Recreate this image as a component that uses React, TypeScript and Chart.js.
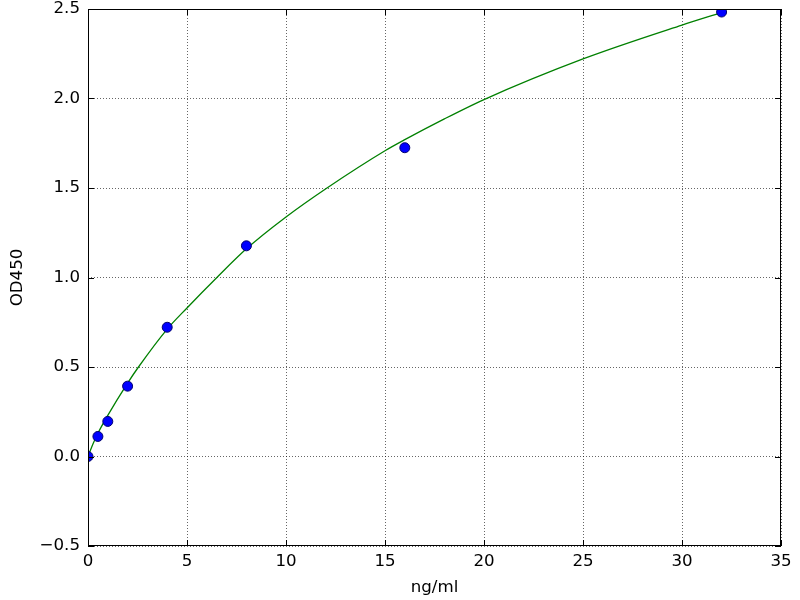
import React, { useEffect, useRef } from "react";
import { Chart, registerables } from "chart.js";

Chart.register(...registerables);

// Measured standards
const concentration = [0, 0.5, 1, 2, 4, 8, 16, 32];
const od450 = [0.0, 0.112, 0.196, 0.393, 0.722, 1.177, 1.725, 2.483];

// Fitted curve
const curveX = [0, 0.25, 0.5, 1, 2, 2.55, 4, 5, 6.51, 8, 10, 12.07, 15, 16, 18, 20, 25, 30, 32];
const curveY = [0, 0.07, 0.13, 0.23, 0.41, 0.5, 0.712, 0.83, 1.0, 1.16, 1.338, 1.5, 1.708, 1.77, 1.886, 1.994, 2.221, 2.41, 2.48];

const xTitle = "ng/ml";
const yTitle = "OD450";

const FONT = { family: "'DejaVu Sans', sans-serif", size: 16.67 };

const framePlugin = {
  id: "frame",
  afterDraw(chart: any) {
    const { ctx, chartArea, scales } = chart;
    const { left, top, right, bottom } = chartArea;
    ctx.save();
    ctx.strokeStyle = "#000";
    ctx.lineWidth = 1;
    ctx.strokeRect(left + 0.5, top + 0.5, right - left - 1, bottom - top - 1);
    const tl = 6;
    ctx.beginPath();
    for (const t of scales.x.ticks) {
      const px = Math.round(scales.x.getPixelForValue(t.value)) + 0.5;
      ctx.moveTo(px, bottom);
      ctx.lineTo(px, bottom - tl);
      ctx.moveTo(px, top);
      ctx.lineTo(px, top + tl);
    }
    for (const t of scales.y.ticks) {
      const py = Math.round(scales.y.getPixelForValue(t.value)) + 0.5;
      ctx.moveTo(left, py);
      ctx.lineTo(left + tl, py);
      ctx.moveTo(right, py);
      ctx.lineTo(right - tl, py);
    }
    ctx.stroke();
    ctx.restore();
  },
};

export default function App() {
  const ref = useRef<HTMLCanvasElement>(null);
  useEffect(() => {
    const chart = new Chart(ref.current as HTMLCanvasElement, {
      type: "scatter",
      data: {
        datasets: [
          {
            type: "scatter",
            data: concentration.map((x, i) => ({ x, y: od450[i] })),
            backgroundColor: "#0000ff",
            borderColor: "#00006e",
            borderWidth: 1,
            pointRadius: 5,
            clip: 0,
            order: 0,
          } as any,
          {
            type: "line",
            data: curveX.map((x, i) => ({ x, y: curveY[i] })),
            borderColor: "#008000",
            borderWidth: 1.3,
            pointRadius: 0,
            fill: false,
            cubicInterpolationMode: "monotone",
            clip: 0,
            order: 1,
          } as any,
        ],
      },
      options: {
        animation: false,
        responsive: false,
        layout: { padding: { top: 9, right: 19, bottom: 0, left: 0 } },
        plugins: { legend: { display: false }, tooltip: { enabled: false } },
        scales: {
          x: {
            type: "linear",
            min: 0,
            max: 35,
            afterFit(scale: any) {
              scale.height = 54;
              scale.paddingLeft = 0;
              scale.paddingRight = 0;
            },
            ticks: {
              stepSize: 5,
              color: "#000",
              font: FONT,
              padding: 6,
              maxRotation: 0,
              callback: (v: any) => String(v),
            },
            grid: { color: "rgba(0,0,0,0.6)", lineWidth: 1, drawTicks: false },
            border: { display: false, dash: [1, 2] },
            title: {
              display: true,
              text: xTitle,
              color: "#000",
              font: FONT,
              padding: { top: 0, bottom: 2 },
            },
          },
          y: {
            type: "linear",
            min: -0.5,
            max: 2.5,
            afterFit(scale: any) {
              scale.width = 88;
              scale.paddingTop = 0;
              scale.paddingBottom = 0;
            },
            ticks: {
              stepSize: 0.5,
              color: "#000",
              font: FONT,
              padding: 8,
              callback: (v: any) => (v < 0 ? "\u2212" : "") + Math.abs(Number(v)).toFixed(1),
            },
            grid: { color: "rgba(0,0,0,0.6)", lineWidth: 1, drawTicks: false },
            border: { display: false, dash: [1, 2] },
            title: {
              display: true,
              text: yTitle,
              color: "#000",
              font: FONT,
              padding: { top: 7.5, bottom: 0 },
            },
          },
        },
      },
      plugins: [framePlugin],
    } as any);
    return () => chart.destroy();
  }, []);
  return (
    <div style={{ position: "absolute", left: 0, top: 0, width: 800, height: 600, background: "#fff" }}>
      <canvas ref={ref} width={800} height={600} />
    </div>
  );
}
